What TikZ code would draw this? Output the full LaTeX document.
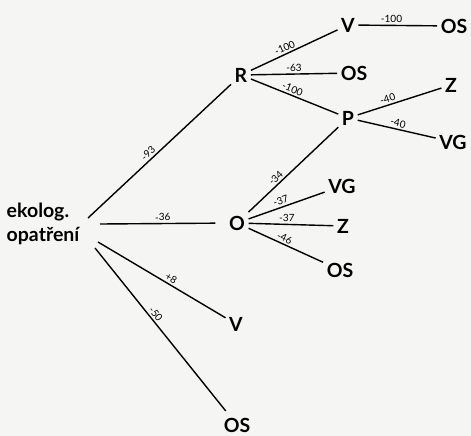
\documentclass[tikz,border=0pt]{standalone}
\usepackage{fontspec}
\setmainfont{Lato}
\definecolor{paper}{HTML}{F5F5F3}
\begin{document}
\begin{tikzpicture}[x=1pt,y=-1pt,
  term/.style={font=\fontsize{19.5}{24.5}\selectfont\bfseries, inner sep=3.5pt},
  link/.style={line width=1.4pt},
  val/.style={font=\fontsize{10}{11}\selectfont, sloped, above, inner sep=1.8pt}]
\fill[paper] (0,0) rectangle (471,436);
\useasboundingbox (0,0) rectangle (471,436);

% terms
\node[term] (V1)  at (348,25)  {V};
\node[term] (OS1) at (454,26)  {OS};
\node[term] (R)   at (241,75)  {R};
\node[term] (OS2) at (354,73)  {OS};
\node[term] (Z1)  at (451,85)  {Z};
\node[term] (P)   at (348,118) {P};
\node[term] (VG1) at (453,142) {VG};
\node[term] (O)   at (237,223) {O};
\node[term] (VG2) at (342,186) {VG};
\node[term] (Z2)  at (343,226) {Z};
\node[term] (OS3) at (340,270) {OS};
\node[term] (V2)  at (236,324) {V};
\node[term] (OS4) at (237,425) {OS};
\node[term, align=left, anchor=west] (eko) at (3,224) {ekolog.\\opatření};

% ports on the right of the root label
\coordinate (eko-r) at (88,218);
\coordinate (eko-o) at (100,224);
\coordinate (eko-v) at (98,242);
\coordinate (eko-s) at (95,248);

% links with their values
\draw[link] (eko-r) -- node[val, pos=.45] {-93} (R);
\draw[link, shorten >=10pt] (eko-o) -- node[val, pos=.5] {-36} (O);
\draw[link] (eko-v) -- node[val, pos=.55] {+8} (V2);
\draw[link, shorten >=4pt] (eko-s) -- node[val, pos=.42] {-50} (OS4);

\draw[link] (R) -- node[val, pos=.42] {-100} (V1);
\draw[link] (R) -- node[val, pos=.5] {-63} (OS2);
\draw[link] (R) -- node[val, pos=.45] {-100} (P);
\draw[link] (V1) -- node[val, pos=.42] {-100} (OS1);
\draw[link] (P) -- node[val, pos=.38] {-40} (Z1);
\draw[link] (P) -- node[val, pos=.5] {-40} (VG1);

\draw[link] (O) -- node[val, pos=.35] {-34} (P);
\draw[link] (O) -- node[val, pos=.45] {-37} (VG2);
\draw[link] (O) -- node[val, pos=.45] {-37} (Z2);
\draw[link] (O) -- node[val, pos=.45] {-46} (OS3);
\end{tikzpicture}
\end{document}
